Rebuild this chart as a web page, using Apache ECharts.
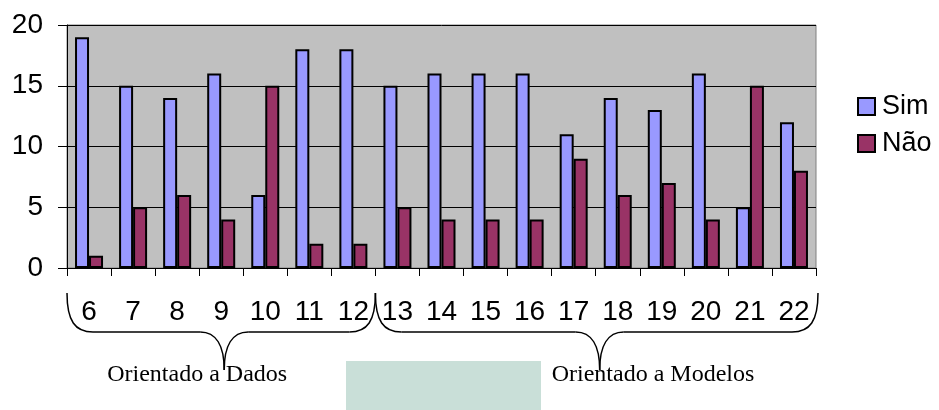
<!DOCTYPE html>
<html>
<head>
<meta charset="UTF-8">
<title>Sim / Não</title>
<script src="https://cdn.jsdelivr.net/npm/echarts@6/dist/echarts.min.js"></script>
</head>
<body style="margin:0;background:#fff">
<div id="main" style="width:939px;height:410px"></div>
<script>
// dados
var categorias = ['6', '7', '8', '9', '10', '11', '12', '13', '14', '15', '16', '17', '18', '19', '20', '21', '22'];
var sim = [19, 15, 14, 16, 6, 18, 18, 15, 16, 16, 16, 11, 14, 13, 16, 5, 12];
var nao = [1, 5, 6, 4, 15, 2, 2, 5, 4, 4, 4, 9, 6, 7, 4, 15, 8];
var yTicks = [0, 5, 10, 15, 20];
var grupos = ['Orientado a Dados', 'Orientado a Modelos'];
var gruposInicio = [0, 7];
var gruposFim = [6, 16];
// deslocamento do texto em relação à ponta da chave
var textoOffset = [-117, -48];

var chart = echarts.init(document.getElementById('main'), null, { renderer: 'canvas' });

var fonte = '"Liberation Sans", Arial, sans-serif';

var option = {
    animation: false,
    backgroundColor: '#ffffff',
    grid: {
        left: 67, right: 123, top: 25, bottom: 142,
        show: true,
        backgroundColor: '#c0c0c0',
        borderColor: '#808080',
        borderWidth: 1
    },
    legend: {
        orient: 'vertical',
        left: 852,
        top: 88,
        itemWidth: 17,
        itemHeight: 17,
        itemGap: 10,
        icon: 'rect',
        textStyle: { fontFamily: fonte, fontSize: 27, color: '#000', padding: [0, 0, 0, 2] },
        itemStyle: { borderColor: '#000', borderWidth: 2 },
        data: ['Sim', 'Não']
    },
    xAxis: {
        type: 'category',
        data: categorias,
        axisLine: { lineStyle: { color: '#000', width: 1 } },
        axisTick: { show: true, length: 8, lineStyle: { color: '#000' } },
        axisLabel: { fontFamily: fonte, fontSize: 28, color: '#000', margin: 30 },
        splitLine: { show: false }
    },
    yAxis: {
        type: 'value',
        min: yTicks[0],
        max: yTicks[yTicks.length - 1],
        interval: 5,
        axisLine: { show: true, lineStyle: { color: '#000', width: 1 } },
        axisTick: { show: true, length: 9, lineStyle: { color: '#000' } },
        axisLabel: { fontFamily: fonte, fontSize: 28, color: '#000', margin: 24 },
        splitLine: { show: true, lineStyle: { color: '#000', width: 1 } }
    },
    series: [
        {
            name: 'Sim',
            type: 'bar',
            data: sim,
            barWidth: 14,
            barGap: '0%',
            itemStyle: { color: '#9999ff', borderColor: '#000', borderWidth: 2 }
        },
        {
            name: 'Não',
            type: 'bar',
            data: nao,
            barWidth: 14,
            barGap: '0%',
            itemStyle: { color: '#993366', borderColor: '#000', borderWidth: 2 }
        }
    ]
};
chart.setOption(option);

// chaves e textos dos grupos, posicionados a partir do eixo
var c0 = chart.convertToPixel({ xAxisIndex: 0 }, categorias[0]);
var c1 = chart.convertToPixel({ xAxisIndex: 0 }, categorias[1]);
var meia = (c1 - c0) / 2;
var yTopo = 293, yMeio = 332, yPonta = 370;
var traco = { fill: null, stroke: '#000', lineWidth: 1.5 };

function curva(x1, y1, cx1, cy1, cx2, cy2, x2, y2) {
    return {
        type: 'bezierCurve',
        shape: { x1: x1, y1: y1, cpx1: cx1, cpy1: cy1, cpx2: cx2, cpy2: cy2, x2: x2, y2: y2 },
        style: traco,
        z: 10
    };
}
function reta(x1, y1, x2, y2) {
    return {
        type: 'line',
        shape: { x1: x1, y1: y1, x2: x2, y2: y2 },
        style: traco,
        z: 10
    };
}

var elementos = [];
// caixa verde clara entre os textos
elementos.push({
    type: 'rect',
    shape: { x: 346, y: 361, width: 195, height: 60 },
    style: { fill: '#c9dfd8' },
    z: 9
});
for (var i = 0; i < grupos.length; i++) {
    var x0 = chart.convertToPixel({ xAxisIndex: 0 }, categorias[gruposInicio[i]]) - meia;
    var x1 = chart.convertToPixel({ xAxisIndex: 0 }, categorias[gruposFim[i]]) + meia + (i == grupos.length - 1 ? 2 : 0);
    var xc = (x0 + x1) / 2 + 3;
    elementos.push(curva(x0, yTopo, x0, yTopo + 28, x0 + 8, yMeio, x0 + 26, yMeio));
    elementos.push(reta(x0 + 26, yMeio, xc - 24, yMeio));
    elementos.push(curva(xc - 24, yMeio, xc - 8, yMeio, xc, yMeio + 14, xc, yPonta));
    elementos.push(curva(xc, yPonta, xc, yMeio + 14, xc + 8, yMeio, xc + 24, yMeio));
    elementos.push(reta(xc + 24, yMeio, x1 - 26, yMeio));
    elementos.push(curva(x1 - 26, yMeio, x1 - 8, yMeio, x1, yTopo + 28, x1, yTopo));
    elementos.push({
        type: 'text',
        x: xc + textoOffset[i],
        y: 363,
        style: {
            text: grupos[i],
            fontFamily: '"Liberation Serif", "Times New Roman", serif',
            fontSize: 24,
            fill: '#000',
            verticalAlign: 'top'
        },
        z: 11
    });
}
chart.setOption({ graphic: elementos });
</script>
</body>
</html>
